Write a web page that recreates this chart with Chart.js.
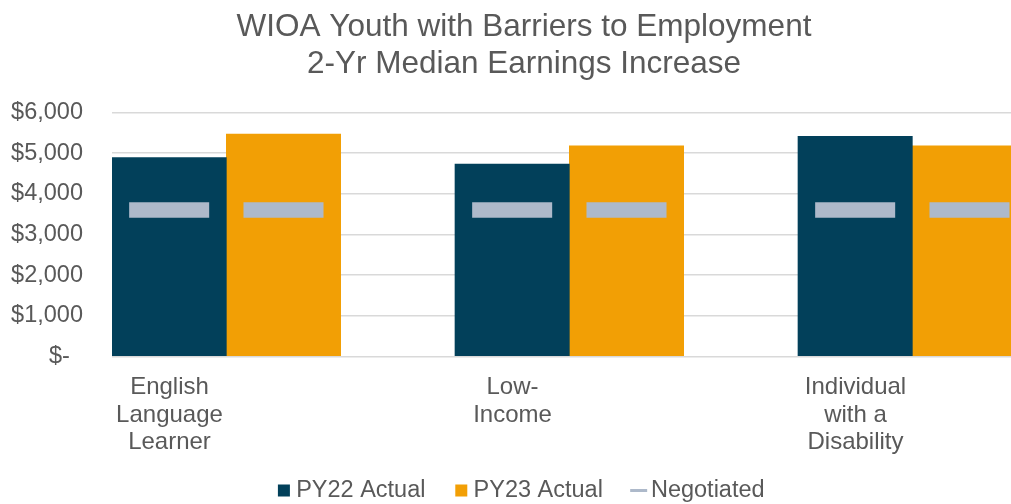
<!DOCTYPE html>
<html>
<head>
<meta charset="utf-8">
<title>WIOA Youth with Barriers to Employment</title>
<script src="https://cdn.jsdelivr.net/npm/chart.js@4/dist/chart.umd.min.js"></script>
<style>
  html, body { margin: 0; padding: 0; background: #fff; overflow: hidden; }
  #wrap { position: relative; width: 1011px; height: 504px; overflow: hidden; }
  #chart { position: absolute; left: -93px; top: 0; }
</style>
</head>
<body>
<div id="wrap"><canvas id="chart" width="1234" height="504"></canvas></div>
<script>
const categories = [
  ['English', 'Language', 'Learner'],
  ['Low-', 'Income'],
  ['Individual', 'with a', 'Disability']
];
const py22Actual = [4890, 4730, 5410];
const py23Actual = [5470, 5180, 5180];
const negotiated = [3600, 3600, 3600];
const yTickLabels = ['$-  ', '$1,000', '$2,000', '$3,000', '$4,000', '$5,000', '$6,000'];

const navy = '#02405A';
const orange = '#F29F05';
const grey = '#ADB9CA';
const textColor = '#595959';
const fontFamily = '"Liberation Sans", Arial, sans-serif';
const markerHalf = 190; // half thickness of the negotiated dash, in $

const ctx = document.getElementById('chart').getContext('2d');

new Chart(ctx, {
  type: 'bar',
  data: {
    labels: categories,
    datasets: [
      { label: 'PY22 Actual', data: py22Actual, backgroundColor: navy, stack: 'a', order: 1 },
      { label: 'PY23 Actual', data: py23Actual, backgroundColor: orange, stack: 'b', order: 1 },
      { label: '', data: categories.map(() => null), stack: 'c', order: 1 },
      { label: 'Negotiated', data: negotiated.map(v => [v - markerHalf, v + markerHalf]),
        backgroundColor: grey, stack: 'a', order: 0, barPercentage: 0.7 },
      { label: 'Negotiated ', data: negotiated.map(v => [v - markerHalf, v + markerHalf]),
        backgroundColor: grey, stack: 'b', order: 0, barPercentage: 0.7 }
    ]
  },
  options: {
    responsive: false,
    animation: false,
    categoryPercentage: 1,
    barPercentage: 1,
    layout: { padding: { left: 0, right: 0, top: 0, bottom: -8.25 } },
    plugins: {
      title: {
        display: true,
        text: ['WIOA Youth with Barriers to Employment', '2-Yr Median Earnings Increase'],
        color: textColor,
        font: { family: fontFamily, size: 31.5, weight: 'normal', lineHeight: 1.17 },
        padding: { top: 9.3, bottom: 29.4 }
      },
      legend: {
        position: 'bottom',
        labels: {
          usePointStyle: true,
          boxWidth: 1,
          boxHeight: 12,
          padding: 22.25,
          color: textColor,
          font: { family: fontFamily, size: 23.5 },
          generateLabels: () => [
            { text: 'PY22 Actual  ', fillStyle: navy, strokeStyle: navy, lineWidth: 0, pointStyle: 'rect', fontColor: textColor, datasetIndex: 0 },
            { text: 'PY23 Actual  ', fillStyle: orange, strokeStyle: orange, lineWidth: 0, pointStyle: 'rect', fontColor: textColor, datasetIndex: 1 },
            { text: 'Negotiated', fillStyle: grey, strokeStyle: grey, lineWidth: 3, pointStyle: 'line', fontColor: textColor, datasetIndex: 3 }
          ]
        },
        onClick: () => {}
      },
      tooltip: { enabled: false }
    },
    scales: {
      x: {
        grid: { display: false },
        border: { display: false },
        ticks: {
          color: textColor,
          font: { family: fontFamily, size: 24, lineHeight: 1.15 },
          padding: 9,
          labelOffset: -114,
          maxRotation: 0,
          autoSkip: false
        },
        afterFit: scale => { scale.height = 100; }
      },
      y: {
        stacked: false,
        min: 0,
        max: 6000,
        grid: { color: '#D9D9D9', lineWidth: 1.5, drawTicks: false },
        border: { display: false },
        ticks: {
          stepSize: 1000,
          padding: 29,
          color: textColor,
          font: { family: fontFamily, size: 23.5 },
          callback: (value, index) => yTickLabels[index]
        },
        afterFit: scale => { scale.width = 205; }
      }
    }
  }
});
</script>
</body>
</html>
